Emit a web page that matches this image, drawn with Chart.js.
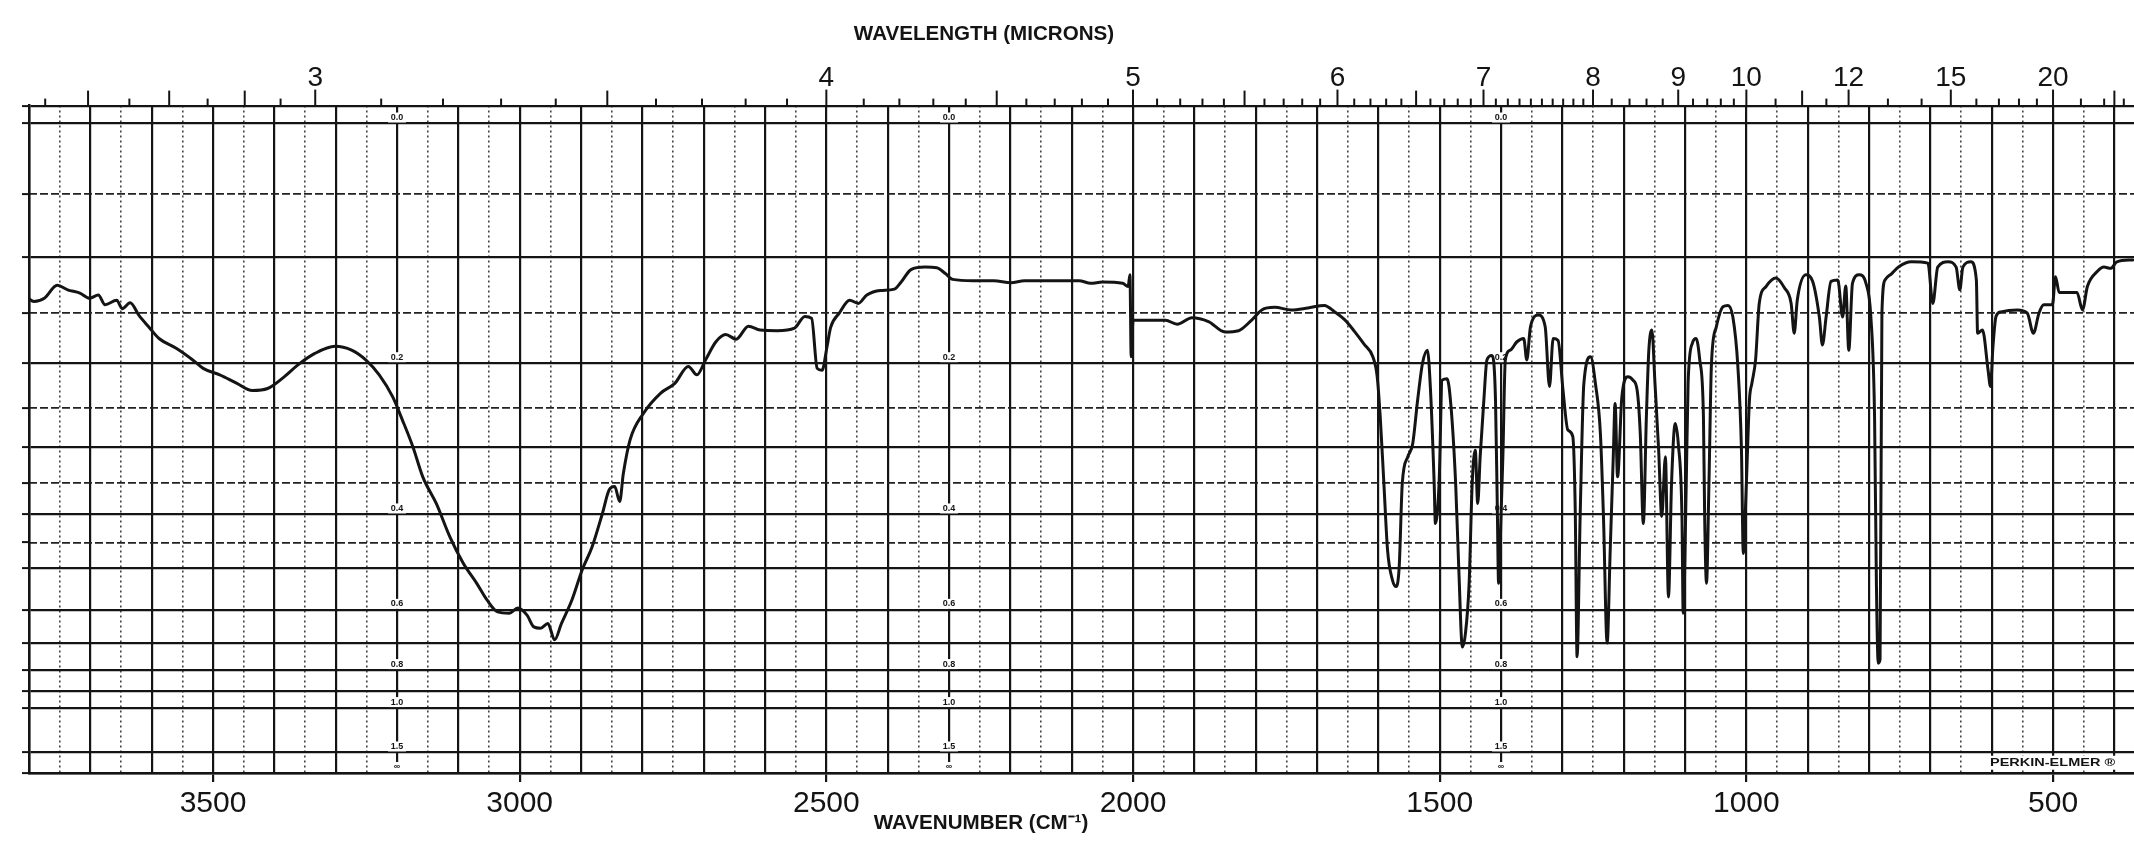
<!DOCTYPE html>
<html>
<head>
<meta charset="utf-8">
<title>IR spectrum</title>
<script src="https://cdn.jsdelivr.net/npm/chart.js@4.4.1/dist/chart.umd.min.js"></script>
<style>
    html, body { margin: 0; padding: 0; background: #fff; }
    #wrap { width: 2134px; height: 841px; position: relative; }
</style>
</head>
<body>
<div id="wrap"><canvas id="irChart"></canvas></div>
<script>
// Trace: wavenumber (cm-1) and % transmittance
const wavenumbers = [
    3805, 3792, 3775, 3754, 3737, 3717, 3701, 3687, 3676, 3657, 3648, 3635, 3621, 3604, 3588, 3560,
    3533, 3516, 3489, 3461, 3436, 3411, 3384, 3362, 3334, 3301, 3274, 3251, 3229, 3207, 3191, 3174,
    3158, 3136, 3114, 3092, 3070, 3053, 3036, 3017, 3003, 2988, 2977, 2966, 2954, 2943, 2932, 2915,
    2898, 2882, 2865, 2854, 2845, 2837, 2831, 2820, 2798, 2770, 2747, 2725, 2711, 2697, 2680, 2664,
    2647, 2627, 2608, 2580, 2552, 2535, 2524, 2515, 2507, 2499, 2493, 2479, 2462, 2448, 2434, 2412,
    2389, 2378, 2362, 2339, 2320, 2306, 2294, 2261, 2227, 2199, 2177, 2120, 2088, 2069, 2050, 2017,
    2008, 2005, 2003, 2000, 1990, 1947, 1928, 1904, 1877, 1850, 1828, 1807, 1790, 1769, 1742, 1715,
    1688, 1671, 1655, 1639, 1623, 1609, 1602, 1597, 1591, 1585, 1577, 1571, 1566, 1561, 1552, 1544,
    1536, 1528, 1520, 1515, 1509, 1507, 1501, 1496, 1488, 1482, 1474, 1469, 1463, 1458, 1452, 1447,
    1442, 1438, 1434, 1428, 1423, 1415, 1409, 1406, 1404, 1400, 1397, 1393, 1385, 1374, 1363, 1358,
    1352, 1339, 1328, 1321, 1315, 1307, 1299, 1291, 1283, 1279, 1276, 1271, 1265, 1254, 1246, 1238,
    1233, 1227, 1222, 1217, 1214, 1210, 1203, 1193, 1185, 1178, 1173, 1168, 1163, 1159, 1154, 1149,
    1143, 1138, 1132, 1127, 1122, 1116, 1111, 1105, 1103, 1098, 1095, 1088, 1082, 1076, 1070, 1068,
    1065, 1061, 1057, 1049, 1038, 1030, 1022, 1014, 1008, 1005, 1000, 995, 991, 985, 979, 968,
    952, 938, 927, 922, 917, 903, 892, 881, 876, 870, 862, 851, 843, 838, 833, 827,
    816, 805, 797, 791, 788, 785, 782, 779, 774, 763, 752, 731, 704, 696, 688, 671,
    658, 652, 647, 634, 625, 623, 615, 606, 602, 598, 593, 585, 558, 542, 532, 523,
    515, 501, 496, 490, 477, 461, 452, 444, 428, 417, 406, 396, 370
];
const transmittance = [
    73.4, 72.6, 73.1, 75.1, 74.4, 73.9, 73.1, 73.6, 72.1, 72.8, 71.5, 72.4, 70.5, 68.6, 66.9, 65.4,
    63.6, 62.3, 61.3, 60.0, 58.9, 59.2, 61.0, 62.8, 64.6, 65.7, 65.1, 63.6, 61.3, 57.9, 54.3, 50.2,
    45.6, 41.5, 36.4, 32.3, 29.2, 26.6, 24.8, 24.6, 25.4, 24.3, 22.5, 22.3, 23.0, 20.5, 23.0, 26.6,
    31.3, 34.8, 40.0, 43.6, 44.1, 41.8, 46.1, 51.3, 55.4, 58.5, 60.0, 62.6, 61.3, 63.6, 66.4, 67.5,
    66.8, 68.8, 68.2, 68.1, 68.5, 70.3, 70.0, 62.3, 62.0, 65.6, 68.6, 70.8, 72.8, 72.3, 73.6, 74.3,
    74.5, 75.6, 77.5, 77.9, 77.8, 76.9, 76.0, 75.8, 75.8, 75.5, 75.8, 75.8, 75.8, 75.4, 75.6, 75.4,
    74.9, 76.7, 64.1, 69.7, 69.7, 69.7, 69.1, 70.1, 69.5, 67.9, 68.1, 69.7, 71.3, 71.7, 71.3, 71.6,
    72.0, 71.0, 69.8, 68.0, 66.0, 64.1, 61.1, 54.9, 44.6, 34.3, 29.7, 28.7, 31.8, 44.6, 48.7, 50.7,
    57.4, 63.1, 65.1, 59.0, 44.6, 38.4, 44.6, 60.5, 60.7, 56.9, 44.6, 31.8, 19.4, 21.5, 29.2, 44.6,
    49.7, 41.5, 48.7, 57.4, 63.6, 64.3, 57.4, 40.5, 29.2, 39.5, 48.7, 63.6, 65.1, 66.4, 66.9, 63.6,
    68.7, 70.5, 68.7, 59.5, 66.9, 66.6, 59.0, 52.8, 51.8, 40.5, 17.9, 39.5, 59.9, 64.1, 59.9, 52.3,
    39.5, 20.0, 34.3, 48.7, 56.9, 45.6, 57.9, 61.0, 60.5, 58.9, 52.3, 38.4, 54.9, 65.1, 68.2, 60.0,
    49.7, 39.5, 48.7, 27.1, 44.6, 53.8, 50.7, 39.5, 24.6, 44.6, 60.0, 66.2, 66.9, 63.6, 54.9, 39.5,
    29.2, 44.6, 62.8, 68.7, 71.8, 72.0, 70.2, 62.8, 49.7, 33.8, 44.6, 57.4, 60.0, 63.6, 72.3, 74.9,
    76.2, 74.7, 72.3, 67.7, 72.8, 76.7, 75.7, 70.2, 65.9, 70.2, 75.7, 75.9, 70.2, 75.0, 65.1, 75.4,
    76.7, 75.4, 70.2, 54.9, 29.2, 16.9, 17.5, 70.8, 75.9, 76.9, 77.9, 78.7, 78.5, 72.3, 77.9, 78.7,
    77.9, 74.4, 77.9, 78.7, 75.9, 67.7, 68.2, 62.1, 59.5, 65.6, 70.3, 71.0, 71.3, 70.8, 67.7, 70.8,
    72.1, 72.1, 76.4, 74.0, 74.0, 74.0, 71.3, 74.9, 77.2, 77.9, 77.7, 78.7, 79.0
];

// Wavenumber axis (linear, high on the left)
const xLeft = 3800;
const xRight = 368;
const wavenumberLabels = [3500, 3000, 2500, 2000, 1500, 1000, 500];

// Wavelength axis along the top (microns)
const micronLabels = [3, 4, 5, 6, 7, 8, 9, 10, 12, 15, 20];
const micronLongTicks = [2.7, 2.8, 2.9, 3.5, 4.5, 5.5, 6.5, 11, 25];
const micronShortTicks = [
    2.65, 2.75, 2.85, 2.95, 3.1, 3.2, 3.3, 3.4, 3.6, 3.7, 3.8, 3.9, 4.1, 4.2, 4.3, 4.4, 4.6, 4.7, 4.8, 4.9,
    5.1, 5.2, 5.3, 5.4, 5.6, 5.7, 5.8, 5.9, 6.1, 6.2, 6.3, 6.4, 6.6, 6.7, 6.8, 6.9,
    7.1, 7.2, 7.3, 7.4, 7.5, 7.6, 7.7, 7.8, 7.9, 8.2, 8.4, 8.6, 8.8, 9.2, 9.4, 9.6, 9.8,
    10.5, 11.5, 13, 14, 16, 17, 18, 19, 22, 24, 26
];

// Absorbance ruling of the paper (transmittance axis is linear)
const absorbanceSolid = [0, 0.1, 0.2, 0.3, 0.4, 0.5, 0.6, 0.7, 0.8, 0.9, 1.0, 1.5];
const absorbanceDashed = [0.05, 0.15, 0.25, 0.35, 0.45];
const absorbanceLabels = ['0.0', '0.2', '0.4', '0.6', '0.8', '1.0', '1.5', '\u221E'];
const absorbanceLabelValues = [0, 0.2, 0.4, 0.6, 0.8, 1.0, 1.5, Infinity];
const absorbanceColumns = [3200, 2300, 1400];
const paperTop = 102.76;

const toT = (a) => 100 * Math.pow(10, -a);
const solidT = [paperTop, ...absorbanceSolid.map(toT), 0];
const dashedT = absorbanceDashed.map(toT);

const FONT = "'Liberation Sans', Arial, sans-serif";
const INK = '#141414';

const range = (from, to, step) => {
    const out = [];
    for (let v = from; v >= to; v -= step) out.push(v);
    return out;
};

// --- paper decorations: top ticks, absorbance labels, titles ---
const paperPlugin = {
    id: 'paper',
    beforeDraw(chart) {
        const ctx = chart.ctx;
        ctx.save();
        ctx.fillStyle = '#fff';
        ctx.fillRect(0, 0, chart.width, chart.height);
        ctx.restore();
    },
    beforeDatasetsDraw(chart) {
        const { ctx, chartArea, scales } = chart;
        const x = scales.x, y = scales.y;
        ctx.save();
        ctx.strokeStyle = INK;
        ctx.lineWidth = 2;
        const tick = (lambda, len) => {
            const px = x.getPixelForValue(1e4 / lambda);
            if (px < chartArea.left - 1 || px > chartArea.right) return;
            ctx.beginPath();
            ctx.moveTo(px, chartArea.top);
            ctx.lineTo(px, chartArea.top - len);
            ctx.stroke();
        };
        micronLabels.forEach(l => tick(l, 16));
        micronLongTicks.forEach(l => tick(l, 15));
        micronShortTicks.forEach(l => tick(l, 7));

        // absorbance scale printed in three columns
        ctx.font = 'bold 9px ' + FONT;
        ctx.textAlign = 'center';
        ctx.textBaseline = 'middle';
        absorbanceColumns.forEach(nu => {
            const px = x.getPixelForValue(nu);
            absorbanceLabels.forEach((txt, i) => {
                const py = y.getPixelForValue(toT(absorbanceLabelValues[i])) - 6;
                ctx.fillStyle = '#fff';
                ctx.fillRect(px - 9, py - 5, 18, 10);
                ctx.fillStyle = INK;
                ctx.fillText(txt, px, py);
            });
        });

        // maker's mark, bottom right strip
        const my = (y.getPixelForValue(toT(1.5)) + y.getPixelForValue(0)) / 2;
        ctx.fillStyle = '#fff';
        ctx.fillRect(1984, my - 7, chart.width - 1984, 14);
        ctx.translate(1990, my);
        ctx.scale(1.45, 1);
        ctx.fillStyle = INK;
        ctx.textAlign = 'left';
        ctx.font = 'bold 10px ' + FONT;
        ctx.fillText('PERKIN-ELMER \u00AE', 0, 1);
        ctx.restore();
    },
    afterDraw(chart) {
        const ctx = chart.ctx;
        ctx.save();
        ctx.fillStyle = INK;
        ctx.textAlign = 'center';
        ctx.textBaseline = 'middle';
        ctx.font = 'bold 21px ' + FONT;
        const label = (txt, cx, cy) => {
            ctx.save();
            ctx.translate(cx, cy);
            ctx.scale(0.98, 1);
            ctx.fillText(txt, 0, 0);
            ctx.restore();
        };
        label('WAVELENGTH (MICRONS)', 984, 34);
        label('WAVENUMBER (CM\u207B\u00B9)', 981, 823);
        ctx.restore();
    }
};

document.addEventListener('DOMContentLoaded', () => {
    const points = wavenumbers.map((nu, i) => ({ x: nu, y: transmittance[i] }));

    new Chart(document.getElementById('irChart'), {
        type: 'line',
        data: {
            datasets: [{
                data: points,
                borderColor: INK,
                borderWidth: 3,
                pointRadius: 0,
                cubicInterpolationMode: 'monotone',
                borderJoinStyle: 'round',
                borderCapStyle: 'round',
                fill: false
            }]
        },
        options: {
            responsive: true,
            maintainAspectRatio: false,
            animation: false,
            layout: { padding: 0 },
            plugins: { legend: { display: false }, tooltip: { enabled: false }, title: { display: false } },
            scales: {
                x: {
                    type: 'linear',
                    position: 'bottom',
                    reverse: true,
                    min: xRight,
                    max: xLeft,
                    afterBuildTicks: (s) => { s.ticks = range(xLeft, 400, 100).map(v => ({ value: v })); },
                    afterFit: (s) => { s.height = 68; },
                    ticks: {
                        autoSkip: false,
                        maxRotation: 0,
                        minRotation: 0,
                        padding: 4,
                        color: INK,
                        font: { family: FONT, size: 30 },
                        callback: (v) => wavenumberLabels.includes(v) ? String(v) : ''
                    },
                    grid: {
                        color: INK,
                        lineWidth: 2.2,
                        tickLength: 9,
                        tickColor: (c) => (c.tick && wavenumberLabels.includes(c.tick.value)) ? INK : 'rgba(0,0,0,0)'
                    },
                    border: { display: true, color: INK, width: 2.5 }
                },
                xMinor: {
                    type: 'linear',
                    position: 'bottom',
                    reverse: true,
                    min: xRight,
                    max: xLeft,
                    afterBuildTicks: (s) => { s.ticks = range(xLeft - 50, 400, 100).map(v => ({ value: v })); },
                    afterFit: (s) => { s.height = 0; },
                    ticks: { display: false },
                    grid: { color: '#444', lineWidth: 1.6, drawTicks: false },
                    border: { display: false, dash: [2, 3] }
                },
                x2: {
                    type: 'linear',
                    position: 'top',
                    reverse: true,
                    min: xRight,
                    max: xLeft,
                    afterBuildTicks: (s) => { s.ticks = micronLabels.map(l => ({ value: 1e4 / l })); },
                    afterFit: (s) => { s.height = 105.6; },
                    ticks: {
                        autoSkip: false,
                        maxRotation: 0,
                        minRotation: 0,
                        padding: 11,
                        color: INK,
                        font: { family: FONT, size: 28 },
                        callback: (v, i) => String(micronLabels[i])
                    },
                    grid: { drawOnChartArea: false, drawTicks: false },
                    border: { display: false }
                },
                y: {
                    type: 'linear',
                    position: 'left',
                    min: 0,
                    max: paperTop,
                    afterBuildTicks: (s) => { s.ticks = [...solidT, ...dashedT].sort((a, b) => b - a).map(v => ({ value: v })); },
                    afterFit: (s) => { s.width = 29; },
                    ticks: { display: false },
                    grid: {
                        color: (c) => (c.tick && dashedT.some(t => Math.abs(t - c.tick.value) < 1e-6)) ? 'rgba(0,0,0,0)' : INK,
                        lineWidth: 2.2,
                        tickLength: 7,
                        tickColor: INK,
                        tickWidth: 2
                    },
                    border: { display: true, color: INK, width: 2.5 }
                },
                yMinor: {
                    type: 'linear',
                    position: 'left',
                    min: 0,
                    max: paperTop,
                    afterBuildTicks: (s) => { s.ticks = dashedT.map(v => ({ value: v })); },
                    afterFit: (s) => { s.width = 0; },
                    ticks: { display: false },
                    grid: { color: '#222', lineWidth: 1.8, drawTicks: false },
                    border: { display: false, dash: [8, 3] }
                }
            }
        },
        plugins: [paperPlugin]
    });
});
</script>
</body>
</html>
